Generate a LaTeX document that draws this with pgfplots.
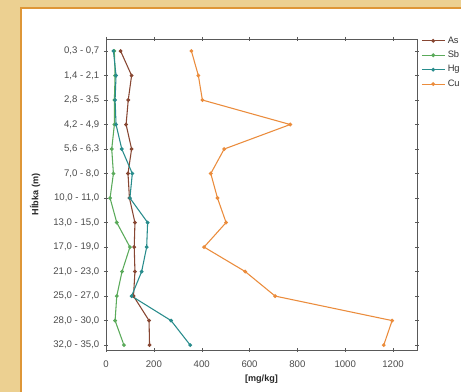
\documentclass[border=0pt]{standalone}
\usepackage{pgfplots}
\pgfplotsset{compat=1.18}
\usepackage{fontspec}
\setmainfont{Liberation Sans}
\definecolor{bggold}{RGB}{236,208,145}
\definecolor{bordor}{RGB}{222,150,55}
\definecolor{cAs}{RGB}{135,70,50}
\definecolor{cSb}{RGB}{90,170,90}
\definecolor{cHg}{RGB}{40,140,140}
\definecolor{cCu}{RGB}{235,140,60}
\begin{document}
\begin{tikzpicture}
\useasboundingbox (-79.5pt,-31.5pt) rectangle ++(345.75pt,294pt);
\clip (-79.5pt,-31.5pt) rectangle ++(345.75pt,294pt);
\begin{scope}[x=0.75pt,y=0.75pt,shift={(-79.5pt,-31.5pt)}]
\fill[bggold] (0,0) rectangle (461,392);
\fill[white] (21,-5) rectangle (470,384);
\draw[bordor,line width=1pt] (21,-5) -- (21,384) -- (470,384);
\end{scope}
\begin{axis}[
  at={(0pt,0pt)}, anchor=south west,
  scale only axis, width=233.25pt, height=233.25pt,
  xmin=0, xmax=1300, ymin=-0.49, ymax=12.2,
  y dir=reverse,
  ytick={0,...,12},
  yticklabels={{0,3 - 0,7},{1,4 - 2,1},{2,8 - 3,5},{4,2 - 4,9},{5,6 - 6,3},{7,0 - 8,0},{10,0 - 11,0},{13,0 - 15,0},{17,0 - 19,0},{21,0 - 23,0},{25,0 - 27,0},{28,0 - 30,0},{32,0 - 35,0}},
  xtick={0,200,...,1200},
  /pgf/number format/1000 sep={},
  tick align=center,
  major tick length=3pt,
  axis line style={gray!70!black, line width=0.6pt},
  tick style={gray!70!black},
  ticklabel style={font=\fontsize{7.2}{8}\selectfont, text=gray!60!black},
  xticklabel style={yshift=-3pt},
  /pgf/number format/assume math mode=true,
  xlabel={\textbf{[mg/kg]}},
  ylabel={\textbf{Hĺbka (m)}},
  label style={font=\fontsize{6.8}{8}\selectfont, text=gray!30!black},
  xlabel style={yshift=1pt},
  ylabel style={yshift=3pt},
  legend style={at={(1.0,1.0)}, anchor=north west, yshift=5pt, xshift=2pt, draw=none, fill=none,
     font=\fontsize{7}{8}\selectfont, row sep=0.4pt, text=gray!40!black,
     inner sep=1pt},
  legend cell align=left,
  every axis plot/.append style={line width=0.8pt, mark=*, mark size=1pt},
  clip=false,
]
\addplot[cAs, mark options={fill=cAs}] coordinates {
(61,0) (107,1) (93,2) (84,3) (107,4) (92,5) (98,6) (121,7) (118,8) (121,9) (115,10) (180,11) (182,12)};
\addlegendentry{As}
\addplot[cSb, mark options={fill=cSb}] coordinates {
(35,0) (38,1) (35,2) (35,3) (24,4) (31,5) (17,6) (45,7) (100,8) (67,9) (45,10) (38,11) (75,12)};
\addlegendentry{Sb}
\addplot[cHg, mark options={fill=cHg}] coordinates {
(31,0) (42,1) (38,2) (42,3) (66,4) (110,5) (100,6) (174,7) (170,8) (149,9) (107,10) (272,11) (352,12)};
\addlegendentry{Hg}
\addplot[cCu, mark options={fill=cCu}] coordinates {
(357,0) (386,1) (403,2) (770,3) (494,4) (438,5) (466,6) (502,7) (410,8) (582,9) (707,10) (1196,11) (1161,12)};
\addlegendentry{Cu}
\end{axis}
\end{tikzpicture}
\end{document}
